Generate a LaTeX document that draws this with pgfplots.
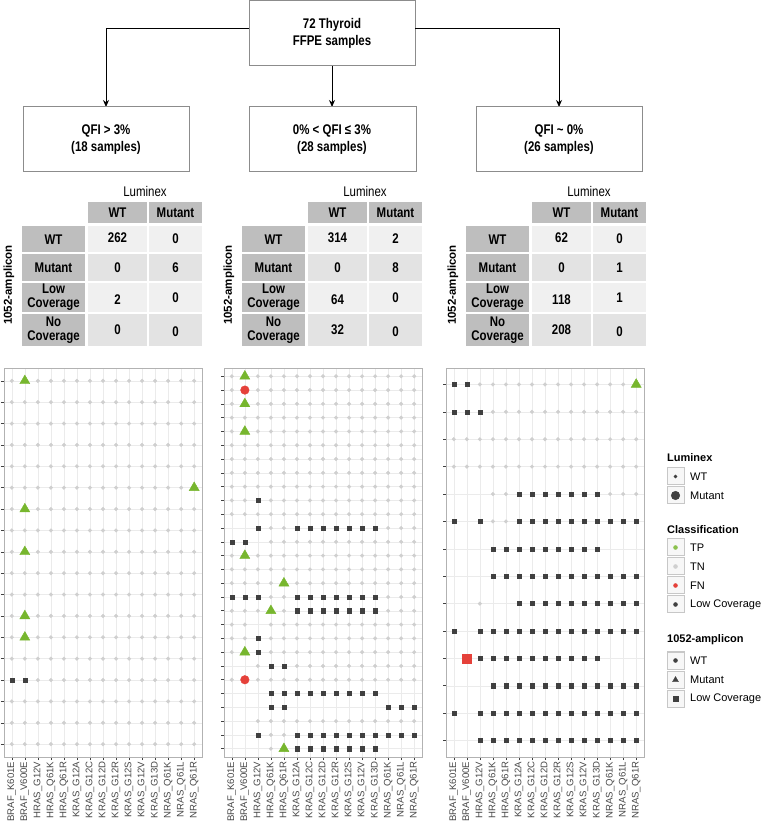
\documentclass[border=0pt]{standalone}
\usepackage{fontspec}
\setmainfont{Liberation Sans}
\newfontfamily\narrowfont[FakeStretch=0.82]{Liberation Sans}
\usepackage{pgfplots}
\pgfplotsset{compat=1.18}
\usetikzlibrary{arrows.meta}
\definecolor{tpgreen}{HTML}{77B62E}
\definecolor{fnred}{HTML}{E5413A}
\definecolor{lcdark}{HTML}{404040}
\definecolor{tngrey}{HTML}{CFCFCF}
\definecolor{hdr}{HTML}{BEBEBE}
\definecolor{cellA}{HTML}{F0F0F0}
\definecolor{cellB}{HTML}{E3E3E3}
\definecolor{boxc}{HTML}{8C8C8C}

\pgfplotsset{
  panel/.style={
    scale only axis, width=198pt, height=389pt, anchor=south west,
    xmin=-0.6, xmax=14.6, y dir=reverse,
    xtick={0,...,14},
    xticklabels={BRAF\_K601E,BRAF\_V600E,HRAS\_G12V,HRAS\_Q61K,HRAS\_Q61R,KRAS\_G12A,KRAS\_G12C,KRAS\_G12D,KRAS\_G12R,KRAS\_G12S,KRAS\_G12V,KRAS\_G13D,NRAS\_Q61K,NRAS\_Q61L,NRAS\_Q61R},
    x tick label style={rotate=90, anchor=east, font=\fontsize{9.6}{9.6}\selectfont, text=black!72, inner sep=1.5pt},
    yticklabels={},
    tick align=outside, tick pos=left,
    major tick length=3pt,
    every tick/.style={black!75, line width=0.6pt},
    grid=major, major grid style={black!8, line width=0.5pt},
    axis line style={black!30, line width=0.6pt},
    clip=false,
  },
  tn/.style={only marks, mark=*, mark size=1.8pt, color=tngrey},
  lc/.style={only marks, mark=square*, mark size=2.1pt, color=lcdark},
  tp/.style={only marks, mark=triangle*, mark size=5.8pt, color=tpgreen},
  fnc/.style={only marks, mark=*, mark size=4.3pt, color=fnred},
  fns/.style={only marks, mark=square*, mark size=4.4pt, color=fnred},
}

\tikzset{
  fc/.style={font=\narrowfont\bfseries\fontsize{14}{17}\selectfont, align=center},
  tb/.style={font=\narrowfont\bfseries\fontsize{14}{14}\selectfont, align=center},
  th/.style={font=\narrowfont\fontsize{14}{14}\selectfont, align=center},
}

% dx, WT/WT, WT/Mut, Mut/WT, Mut/Mut, Low/WT, Low/Mut, No/WT, No/Mut
\newcommand{\ctable}[9]{%
\begin{scope}[xshift=#1pt]
  \node[th] at (145,192) {Luminex};
  \fill[hdr] (88,202) rectangle (147,223);
  \fill[hdr] (149,202) rectangle (202,223);
  \node[tb] at (117.5,212.5) {WT};
  \node[tb] at (175.5,212.5) {Mutant};
  \fill[hdr] (22,226) rectangle (85,252);
  \fill[cellA] (88,226) rectangle (147,252);
  \fill[cellA] (149,226) rectangle (202,252);
  \node[tb] at (53.5,240) {WT};
  \node[tb] at (117.5,238) {#2};
  \node[tb] at (175.5,239) {#3};
  \fill[hdr] (22,254) rectangle (85,281);
  \fill[cellB] (88,254) rectangle (147,281);
  \fill[cellB] (149,254) rectangle (202,281);
  \node[tb] at (53.5,267.5) {Mutant};
  \node[tb] at (117.5,268) {#4};
  \node[tb] at (175.5,267.5) {#5};
  \fill[hdr] (22,283) rectangle (85,312);
  \fill[cellA] (88,283) rectangle (147,312);
  \fill[cellA] (149,283) rectangle (202,312);
  \node[tb] at (53.5,297.5) {Low\\Coverage};
  \node[tb] at (117.5,300) {#6};
  \node[tb] at (175.5,298) {#7};
  \fill[hdr] (22,314) rectangle (85,346);
  \fill[cellB] (88,314) rectangle (147,346);
  \fill[cellB] (149,314) rectangle (202,346);
  \node[tb] at (53.5,330) {No\\Coverage};
  \node[tb] at (117.5,330) {#8};
  \node[tb] at (175.5,332) {#9};
  \node[rotate=90, font=\bfseries\fontsize{11.5}{11.5}\selectfont] at (9,285) {1052-amplicon};
\end{scope}}

\begin{document}
\begin{tikzpicture}
\begin{scope}[x=1pt,y=-1pt,yshift=826pt]
% ---------------- flowchart ----------------
\draw[boxc, line width=1pt] (249,0.5) rectangle (415,66);
\node[fc] at (332,33) {72 Thyroid\\FFPE samples};
\draw[line width=0.9pt, -{Stealth[length=7pt,width=6pt]}] (249,28) -- (106,28) -- (106,107);
\draw[line width=0.9pt, -{Stealth[length=7pt,width=6pt]}] (415,28) -- (559,28) -- (559,107);
\draw[line width=0.9pt, -{Stealth[length=7pt,width=6pt]}] (332,66) -- (332,107);
\draw[boxc, line width=1pt] (23,107) rectangle (189,172);
\draw[boxc, line width=1pt] (249,107) rectangle (416,172);
\draw[boxc, line width=1pt] (476,107) rectangle (642,172);
\node[fc] at (106,140) {QFI > 3\%\\(18 samples)};
\node[fc] at (332,140) {0\% < QFI ≤ 3\%\\(28 samples)};
\node[fc] at (559,140) {QFI \textasciitilde\ 0\%\\(26 samples)};
% ---------------- tables ----------------
\ctable{0}{262}{0}{0}{6}{2}{0}{0}{0}
\ctable{220}{314}{2}{0}{8}{64}{0}{32}{0}
\ctable{444}{62}{0}{0}{1}{118}{1}{208}{0}
\end{scope}

% ---------------- panel 1: QFI > 3% ----------------
\begin{axis}[panel, at={(4pt,69pt)}, ymin=0.4, ymax=18.6, ytick={1,...,18}]
\addplot[tn] coordinates {
(0,1)(2,1)(3,1)(4,1)(5,1)(6,1)(7,1)(8,1)(9,1)(10,1)(11,1)(12,1)(13,1)(14,1)
(0,2)(1,2)(2,2)(3,2)(4,2)(5,2)(6,2)(7,2)(8,2)(9,2)(10,2)(11,2)(12,2)(13,2)(14,2)
(0,3)(1,3)(2,3)(3,3)(4,3)(5,3)(6,3)(7,3)(8,3)(9,3)(10,3)(11,3)(12,3)(13,3)(14,3)
(0,4)(1,4)(2,4)(3,4)(4,4)(5,4)(6,4)(7,4)(8,4)(9,4)(10,4)(11,4)(12,4)(13,4)(14,4)
(0,5)(1,5)(2,5)(3,5)(4,5)(5,5)(6,5)(7,5)(8,5)(9,5)(10,5)(11,5)(12,5)(13,5)(14,5)
(0,6)(1,6)(2,6)(3,6)(4,6)(5,6)(6,6)(7,6)(8,6)(9,6)(10,6)(11,6)(12,6)(13,6)
(0,7)(2,7)(3,7)(4,7)(5,7)(6,7)(7,7)(8,7)(9,7)(10,7)(11,7)(12,7)(13,7)(14,7)
(0,8)(1,8)(2,8)(3,8)(4,8)(5,8)(6,8)(7,8)(8,8)(9,8)(10,8)(11,8)(12,8)(13,8)(14,8)
(0,9)(2,9)(3,9)(4,9)(5,9)(6,9)(7,9)(8,9)(9,9)(10,9)(11,9)(12,9)(13,9)(14,9)
(0,10)(1,10)(2,10)(3,10)(4,10)(5,10)(6,10)(7,10)(8,10)(9,10)(10,10)(11,10)(12,10)(13,10)(14,10)
(0,11)(1,11)(2,11)(3,11)(4,11)(5,11)(6,11)(7,11)(8,11)(9,11)(10,11)(11,11)(12,11)(13,11)(14,11)
(0,12)(2,12)(3,12)(4,12)(5,12)(6,12)(7,12)(8,12)(9,12)(10,12)(11,12)(12,12)(13,12)(14,12)
(0,13)(2,13)(3,13)(4,13)(5,13)(6,13)(7,13)(8,13)(9,13)(10,13)(11,13)(12,13)(13,13)(14,13)
(0,14)(1,14)(2,14)(3,14)(4,14)(5,14)(6,14)(7,14)(8,14)(9,14)(10,14)(11,14)(12,14)(13,14)(14,14)
(2,15)(3,15)(4,15)(5,15)(6,15)(7,15)(8,15)(9,15)(10,15)(11,15)(12,15)(13,15)(14,15)
(0,16)(1,16)(2,16)(3,16)(4,16)(5,16)(6,16)(7,16)(8,16)(9,16)(10,16)(11,16)(12,16)(13,16)(14,16)
(0,17)(1,17)(2,17)(3,17)(4,17)(5,17)(6,17)(7,17)(8,17)(9,17)(10,17)(11,17)(12,17)(13,17)(14,17)
(0,18)(1,18)(2,18)(3,18)(4,18)(5,18)(6,18)(7,18)(8,18)(9,18)(10,18)(11,18)(12,18)(13,18)(14,18)
};
\addplot[lc] coordinates {(0,15)(1,15)};
\addplot[tp] coordinates {(1,1)(14,6)(1,7)(1,9)(1,12)(1,13)};
\end{axis}

% ---------------- panel 2: 0% < QFI <= 3% ----------------
\begin{axis}[panel, at={(224pt,69pt)}, ymin=0.4, ymax=28.6, ytick={1,...,28}]
\addplot[tn] coordinates {
(0,1)(2,1)(3,1)(4,1)(5,1)(6,1)(7,1)(8,1)(9,1)(10,1)(11,1)(12,1)(13,1)(14,1)
(0,2)(2,2)(3,2)(4,2)(5,2)(6,2)(7,2)(8,2)(9,2)(10,2)(11,2)(12,2)(13,2)(14,2)
(0,3)(2,3)(3,3)(4,3)(5,3)(6,3)(7,3)(8,3)(9,3)(10,3)(11,3)(12,3)(13,3)(14,3)
(0,4)(1,4)(2,4)(3,4)(4,4)(5,4)(6,4)(7,4)(8,4)(9,4)(10,4)(11,4)(12,4)(13,4)(14,4)
(0,5)(2,5)(3,5)(4,5)(5,5)(6,5)(7,5)(8,5)(9,5)(10,5)(11,5)(12,5)(13,5)(14,5)
(0,6)(1,6)(2,6)(3,6)(4,6)(5,6)(6,6)(7,6)(8,6)(9,6)(10,6)(11,6)(12,6)(13,6)(14,6)
(0,7)(1,7)(2,7)(3,7)(4,7)(5,7)(6,7)(7,7)(8,7)(9,7)(10,7)(11,7)(12,7)(13,7)(14,7)
(0,8)(1,8)(2,8)(3,8)(4,8)(5,8)(6,8)(7,8)(8,8)(9,8)(10,8)(11,8)(12,8)(13,8)(14,8)
(0,9)(1,9)(2,9)(3,9)(4,9)(5,9)(6,9)(7,9)(8,9)(9,9)(10,9)(11,9)(12,9)(13,9)(14,9)
(0,10)(1,10)(3,10)(4,10)(5,10)(6,10)(7,10)(8,10)(9,10)(10,10)(11,10)(12,10)(13,10)(14,10)
(0,11)(1,11)(2,11)(3,11)(4,11)(5,11)(6,11)(7,11)(8,11)(9,11)(10,11)(11,11)(12,11)(13,11)(14,11)
(3,12)(4,12)(12,12)(13,12)(14,12)
(3,13)(4,13)(5,13)(6,13)(7,13)(8,13)(9,13)(10,13)(11,13)(12,13)(13,13)(14,13)
(0,14)(2,14)(3,14)(4,14)(5,14)(6,14)(7,14)(8,14)(9,14)(10,14)(11,14)(12,14)(13,14)(14,14)
(0,15)(1,15)(2,15)(3,15)(4,15)(5,15)(6,15)(7,15)(8,15)(9,15)(10,15)(11,15)(12,15)(13,15)(14,15)
(0,16)(1,16)(2,16)(3,16)(5,16)(6,16)(7,16)(8,16)(9,16)(10,16)(11,16)(12,16)(13,16)(14,16)
(3,17)(4,17)(12,17)(13,17)(14,17)
(0,18)(1,18)(2,18)(4,18)(12,18)(13,18)(14,18)
(0,19)(1,19)(3,19)(4,19)(5,19)(6,19)(7,19)(8,19)(9,19)(10,19)(11,19)(12,19)(13,19)(14,19)
(0,20)(1,20)(3,20)(4,20)(5,20)(6,20)(7,20)(8,20)(9,20)(10,20)(11,20)(12,20)(13,20)(14,20)
(0,21)(3,21)(4,21)(5,21)(6,21)(7,21)(8,21)(9,21)(10,21)(11,21)(12,21)(13,21)(14,21)
(2,22)(5,22)(6,22)(7,22)(8,22)(9,22)(10,22)(11,22)(12,22)(13,22)(14,22)
(0,23)(2,23)(3,23)(4,23)(5,23)(6,23)(7,23)(8,23)(9,23)(10,23)(11,23)(12,23)(13,23)(14,23)
(2,26)(3,26)(4,26)(5,26)(6,26)(7,26)(8,26)(9,26)(10,26)(11,26)(12,26)(13,26)(14,26)
(3,27)(4,27)
(3,28)
};
\addplot[lc] coordinates {
(2,10)
(2,12)(5,12)(6,12)(7,12)(8,12)(9,12)(10,12)(11,12)
(0,13)(1,13)
(0,17)(1,17)(2,17)(5,17)(6,17)(7,17)(8,17)(9,17)(10,17)(11,17)
(5,18)(6,18)(7,18)(8,18)(9,18)(10,18)(11,18)
(2,20)
(2,21)
(3,22)(4,22)
(3,24)(4,24)(5,24)(6,24)(7,24)(8,24)(9,24)(10,24)(11,24)
(3,25)(4,25)(12,25)(13,25)(14,25)
(2,27)(5,27)(6,27)(7,27)(8,27)(9,27)(10,27)(11,27)(12,27)(13,27)(14,27)
(5,28)(6,28)(7,28)(8,28)(9,28)(10,28)(11,28)
};
\addplot[tp] coordinates {(1,1)(1,3)(1,5)(1,14)(4,16)(3,18)(1,21)(4,28)};
\addplot[fnc] coordinates {(1,2)(1,23)};
\end{axis}

% ---------------- panel 3: QFI ~ 0% ----------------
\begin{axis}[panel, at={(446pt,69pt)}, ymin=0.4, ymax=14.6, ytick={1,...,14}]
\addplot[tn] coordinates {
(2,1)(3,1)(4,1)(5,1)(6,1)(7,1)(8,1)(9,1)(10,1)(11,1)(12,1)(13,1)
(3,2)(4,2)(5,2)(6,2)(7,2)(8,2)(9,2)(10,2)(11,2)(12,2)(13,2)(14,2)
(0,3)(1,3)(2,3)(3,3)(4,3)(5,3)(6,3)(7,3)(8,3)(9,3)(10,3)(11,3)(12,3)(13,3)(14,3)
(0,4)(1,4)(2,4)(3,4)(4,4)(5,4)(6,4)(7,4)(8,4)(9,4)(10,4)(11,4)(12,4)(13,4)(14,4)
(3,5)(4,5)(12,5)(13,5)(14,5)
(3,6)(4,6)
(2,9)
};
\addplot[lc] coordinates {
(0,1)(1,1)
(0,2)(1,2)(2,2)
(5,5)(6,5)(7,5)(8,5)(9,5)(10,5)(11,5)
(0,6)(2,6)(5,6)(6,6)(7,6)(8,6)(9,6)(10,6)(11,6)(12,6)(13,6)(14,6)
(3,7)(4,7)(5,7)(6,7)(7,7)(8,7)(9,7)(10,7)(11,7)
(3,8)(4,8)(5,8)(6,8)(7,8)(8,8)(9,8)(10,8)(11,8)(12,8)(13,8)(14,8)
(5,9)(6,9)(7,9)(8,9)(9,9)(10,9)(11,9)(12,9)(13,9)(14,9)
(2,10)(3,10)(4,10)(5,10)(6,10)(7,10)(8,10)(9,10)(10,10)(11,10)(12,10)(13,10)(14,10)
(2,11)(3,11)(4,11)(5,11)(6,11)(7,11)(8,11)(9,11)(10,11)(11,11)
(3,12)(4,12)(5,12)(6,12)(7,12)(8,12)(9,12)(10,12)(11,12)(12,12)(13,12)(14,12)
(2,13)(3,13)(4,13)(5,13)(6,13)(7,13)(8,13)(9,13)(10,13)(11,13)(12,13)(13,13)(14,13)
(2,14)(3,14)(4,14)(5,14)(6,14)(7,14)(8,14)(9,14)(10,14)(11,14)(12,14)(13,14)(14,14)
(0,10)(0,13)
};
\addplot[tp] coordinates {(14,1)};
\addplot[fns] coordinates {(1,11)};
\end{axis}

% ---------------- legend ----------------
\begin{axis}[at={(660pt,106pt)}, anchor=south west, scale only axis, width=102pt, height=270pt,
  xmin=660, xmax=762, ymin=450, ymax=720, y dir=reverse, hide axis, clip=false]
\tikzset{keyb/.style={draw=black!22, fill=black!3, line width=1pt},
  ltitle/.style={anchor=west, font=\bfseries\fontsize{11}{11}\selectfont, inner sep=0pt},
  llab/.style={anchor=west, font=\fontsize{11}{11}\selectfont, inner sep=0pt}}
\node[ltitle] at (axis cs:667,458) {Luminex};
\draw[keyb] (axis cs:667,468) rectangle (axis cs:684,485);
\draw[keyb] (axis cs:667,487) rectangle (axis cs:684,504);
\node[llab] at (axis cs:690,476.5) {WT};
\node[llab] at (axis cs:690,495.5) {Mutant};
\node[ltitle] at (axis cs:667,530) {Classification};
\draw[keyb] (axis cs:667,539) rectangle (axis cs:684,556);
\draw[keyb] (axis cs:667,558) rectangle (axis cs:684,575);
\draw[keyb] (axis cs:667,577) rectangle (axis cs:684,594);
\draw[keyb] (axis cs:667,596) rectangle (axis cs:684,613);
\node[llab] at (axis cs:690,547.5) {TP};
\node[llab] at (axis cs:690,566.5) {TN};
\node[llab] at (axis cs:690,585.5) {FN};
\node[llab] at (axis cs:690,604.5) {Low Coverage};
\node[ltitle] at (axis cs:667,640) {1052-amplicon};
\draw[keyb] (axis cs:667,652) rectangle (axis cs:684,669);
\draw[keyb] (axis cs:667,671) rectangle (axis cs:684,688);
\draw[keyb] (axis cs:667,690) rectangle (axis cs:684,707);
\node[llab] at (axis cs:690,660.5) {WT};
\node[llab] at (axis cs:690,679.5) {Mutant};
\node[llab] at (axis cs:690,698.5) {Low Coverage};
\addplot[only marks, mark=*, mark size=1.6pt, color=lcdark] coordinates {(675.5,476.5)};
\addplot[only marks, mark=*, mark size=4.3pt, color=lcdark] coordinates {(675.5,495.5)};
\addplot[only marks, mark=*, mark size=2pt, color=tpgreen!85!white] coordinates {(675.5,547.5)};
\addplot[only marks, mark=*, mark size=2pt, color=tngrey] coordinates {(675.5,566.5)};
\addplot[only marks, mark=*, mark size=2pt, color=fnred] coordinates {(675.5,585.5)};
\addplot[only marks, mark=*, mark size=2pt, color=lcdark] coordinates {(675.5,604.5)};
\addplot[only marks, mark=*, mark size=2pt, color=lcdark] coordinates {(675.5,660.5)};
\addplot[only marks, mark=triangle*, mark size=3.4pt, color=lcdark] coordinates {(675.5,680)};
\addplot[only marks, mark=square*, mark size=2.4pt, color=lcdark] coordinates {(675.5,698.5)};
\end{axis}

\pgfresetboundingbox
\useasboundingbox (0,0) rectangle (762pt,826pt);
\end{tikzpicture}
\end{document}
